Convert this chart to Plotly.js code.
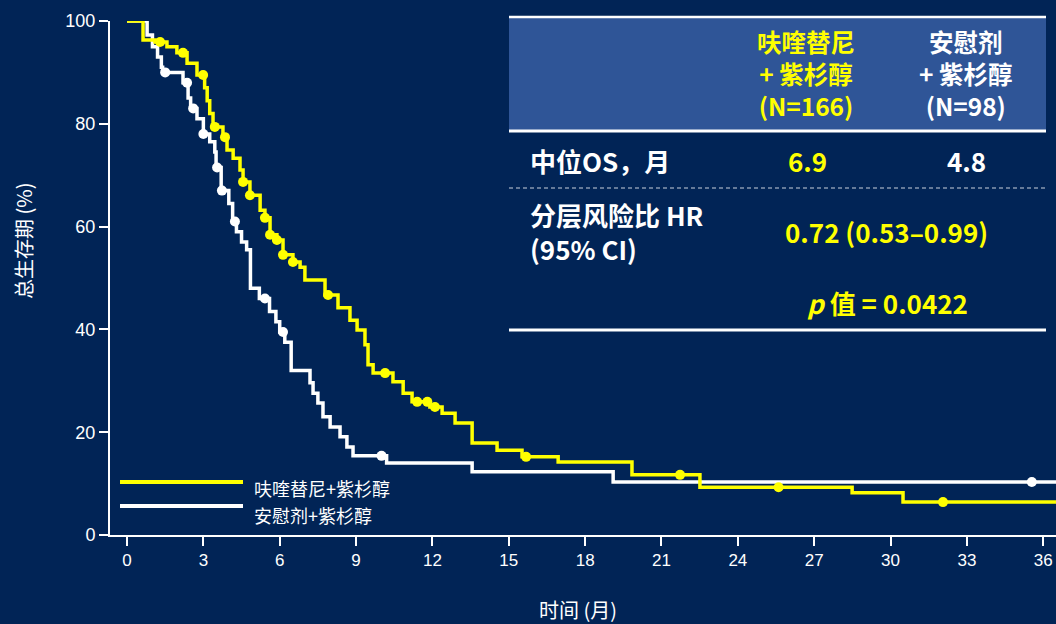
<!DOCTYPE html>
<html>
<head>
<meta charset="utf-8">
<script src="https://cdn.plot.ly/plotly-3.0.1.min.js"></script>
<style>
  html, body { margin: 0; padding: 0; background: #012456; }
  #chart { width: 1056px; height: 624px; }
</style>
</head>
<body>
<div id="chart"></div>
<script>
// Kaplan–Meier overall survival, step vertices (months, % surviving)
const fruqT = [0, 0.63, 1.1, 1.57, 1.96, 2.36, 2.75, 3.05, 3.15, 3.25, 3.38, 3.77, 3.93, 4.17, 4.44, 4.56, 4.83, 5.23, 5.42, 5.62, 5.89, 6.13, 6.52, 6.8, 6.99, 7.78, 8.29, 8.76, 9.04, 9.35, 9.47, 9.67, 10.45, 10.85, 11.2, 11.9, 12.38, 12.89, 13.56, 14.54, 15.52, 16.94, 19.84, 22.51, 28.49, 30.49, 36.5];
const fruqS = [100, 96.3, 95.9, 95, 93.8, 91.8, 89.5, 87, 84.5, 82, 79.4, 77.4, 74.9, 73.3, 71, 68.7, 66.1, 63.2, 61.7, 58.4, 57.4, 54.5, 53.1, 52.1, 49.6, 46.7, 44.2, 41.8, 39.9, 37, 33.1, 31.5, 29.8, 27.6, 25.9, 24.9, 23.7, 21.8, 17.9, 16.5, 15.2, 14.2, 11.7, 9.3, 8.2, 6.4, 6.4];
const placT = [0, 0.79, 1.0, 1.2, 1.35, 1.4, 2.2, 2.4, 2.5, 2.75, 3.0, 3.25, 3.45, 3.5, 3.7, 4.0, 4.15, 4.3, 4.5, 4.7, 4.85, 5.2, 5.6, 5.85, 6.0, 6.2, 6.45, 7.19, 7.31, 7.5, 7.7, 7.98, 8.37, 8.64, 8.88, 10.2, 13.56, 19.1, 36.5];
const placS = [100, 97.3, 95, 93, 91, 90, 88, 85, 83, 81, 78, 76.5, 74.5, 71.5, 67, 64.5, 61, 59, 57, 55.5, 48, 46, 43.5, 41.5, 39.5, 37.5, 32, 29.6, 27.6, 25.7, 23, 21, 19.1, 17.1, 15.4, 14.0, 12.3, 10.3, 10.3];

// censoring times (months)
const fruqCensor = [1.3, 2.2, 2.99, 3.45, 3.85, 4.56, 4.83, 5.42, 5.62, 5.89, 6.13, 6.52, 7.9, 10.14, 11.4, 11.8, 12.1, 15.68, 21.73, 25.6, 32.06];
const placCensor = [1.5, 2.36, 2.6, 3.0, 3.54, 3.73, 4.24, 5.42, 6.13, 10.0, 35.55];

const xTicks = [0, 3, 6, 9, 12, 15, 18, 21, 24, 27, 30, 33, 36];
const yTicks = [0, 20, 40, 60, 80, 100];

const armNames = ['呋喹替尼+紫杉醇', '安慰剂+紫杉醇'];
const headFruq = ['呋喹替尼', '+ 紫杉醇', '(N=166)'];
const headPlac = ['安慰剂', '+ 紫杉醇', '(N=98)'];
const medianLabel = '中位OS，月';
const medianFruq = '6.9';
const medianPlac = '4.8';
const hrLabel = ['分层风险比 HR', '(95% CI)'];
const hrValue = '0.72 (0.53–0.99)';
const pValue = '<i>p</i> 值 = 0.0422';
const yTitle = '总生存期 (%)';
const xTitle = '时间 (月)';

const YEL = '#ffff00';
const WHITE = '#ffffff';
const BG = '#012456';
const HEAD_BG = '#2f5597';
const CJK = '"Noto Sans CJK SC", "Noto Sans", sans-serif';
const NUM = '"Liberation Sans", Arial, sans-serif';

function survAt(ts, ss, t) {
  let s = ss[0];
  for (let i = 0; i < ts.length; i++) if (ts[i] <= t) s = ss[i];
  return s;
}

// plot-area geometry in pixels, used to place the table and legend
const L = 110, T = 21, W = 946, H = 514;
const px = x => (x - L) / W;
const py = y => (T + H - y) / H;

const traces = [
  { x: placT, y: placS, type: 'scatter', mode: 'lines', line: { shape: 'hv', color: WHITE, width: 3.5 }, hoverinfo: 'skip' },
  { x: placCensor, y: placCensor.map(t => survAt(placT, placS, t)), type: 'scatter', mode: 'markers', marker: { color: WHITE, size: 10 }, hoverinfo: 'skip' },
  { x: fruqT, y: fruqS, type: 'scatter', mode: 'lines', line: { shape: 'hv', color: YEL, width: 3.5 }, hoverinfo: 'skip' },
  { x: fruqCensor, y: fruqCensor.map(t => survAt(fruqT, fruqS, t)), type: 'scatter', mode: 'markers', marker: { color: YEL, size: 10 }, hoverinfo: 'skip' }
];

const shapes = [
  { type: 'rect', xref: 'paper', yref: 'paper', x0: px(509), x1: px(1046), y0: py(131), y1: py(18), fillcolor: HEAD_BG, line: { width: 0 }, layer: 'above' },
  { type: 'line', xref: 'paper', yref: 'paper', x0: px(509), x1: px(1046), y0: py(17), y1: py(17), line: { color: WHITE, width: 2.5 } },
  { type: 'line', xref: 'paper', yref: 'paper', x0: px(509), x1: px(1046), y0: py(131), y1: py(131), line: { color: WHITE, width: 3 } },
  { type: 'line', xref: 'paper', yref: 'paper', x0: px(509), x1: px(1046), y0: py(188), y1: py(188), line: { color: '#c9cfdb', width: 1.2, dash: '4px,3px' } },
  { type: 'line', xref: 'paper', yref: 'paper', x0: px(509), x1: px(1046), y0: py(330), y1: py(330), line: { color: WHITE, width: 3 } },
  // legend swatches
  { type: 'line', xref: 'paper', yref: 'paper', x0: px(120), x1: px(243), y0: py(482), y1: py(482), line: { color: YEL, width: 4 } },
  { type: 'line', xref: 'paper', yref: 'paper', x0: px(120), x1: px(243), y0: py(506), y1: py(506), line: { color: WHITE, width: 4 } }
];

function note(text, x, y, opts) {
  return Object.assign({
    text: text, xref: 'paper', yref: 'paper', x: px(x), y: py(y),
    xanchor: 'center', yanchor: 'middle', showarrow: false, borderpad: 0,
    font: { family: CJK, size: 26, color: WHITE, weight: 700 }
  }, opts || {});
}

const yelBold = { family: CJK, size: 26, color: YEL, weight: 700 };
const headWhite = { family: CJK, size: 24.5, color: WHITE, weight: 700 };
const headYel = { family: CJK, size: 24.5, color: YEL, weight: 700 };
const annotations = [];
annotations.push(note(headFruq.join('<br>'), 806, 74, { font: headYel }));
annotations.push(note(headPlac.join('<br>'), 966, 74, { font: headWhite }));
annotations.push(note(medianLabel, 529, 160, { xanchor: 'left' }));
annotations.push(note(medianFruq, 807, 160, { font: yelBold }));
annotations.push(note(medianPlac, 966, 160));
annotations.push(note(hrLabel.join('<br>'), 529, 231, { xanchor: 'left', align: 'left' }));
annotations.push(note(hrValue, 886, 231, { font: yelBold }));
annotations.push(note(pValue, 887, 302, { font: yelBold }));
// legend labels
const legFont = { family: CJK, size: 18, color: WHITE };
annotations.push(note(armNames[0], 253, 488, { xanchor: 'left', font: legFont }));
annotations.push(note(armNames[1], 253, 515, { xanchor: 'left', font: legFont }));
// axis titles
annotations.push(note(yTitle, 23, 241, { textangle: -90, font: { family: CJK, size: 20, color: WHITE } }));
annotations.push(note(xTitle, 578, 609, { font: { family: CJK, size: 20, color: WHITE } }));

const layout = {
  width: 1056, height: 624,
  margin: { l: L, r: 1056 - L - W, t: T, b: 624 - T - H },
  paper_bgcolor: BG, plot_bgcolor: BG,
  showlegend: false,
  xaxis: {
    range: [-0.668, 36.5], tickvals: xTicks, ticktext: xTicks.map(String),
    showgrid: false, zeroline: false, showline: true, linecolor: WHITE, linewidth: 2,
    ticks: 'outside', ticklen: 9, tickwidth: 2, tickcolor: WHITE,
    tickfont: { family: NUM, size: 17, color: WHITE }, fixedrange: true
  },
  yaxis: {
    range: [0, 100], tickvals: yTicks, ticktext: yTicks.map(String),
    showgrid: false, zeroline: false, showline: true, linecolor: WHITE, linewidth: 2,
    ticks: 'outside', ticklen: 9, tickwidth: 2, tickcolor: WHITE,
    tickfont: { family: NUM, size: 18, color: WHITE }, fixedrange: true
  },
  shapes: shapes,
  annotations: annotations
};

Plotly.newPlot('chart', traces, layout, { displayModeBar: false, staticPlot: true });
</script>
</body>
</html>
